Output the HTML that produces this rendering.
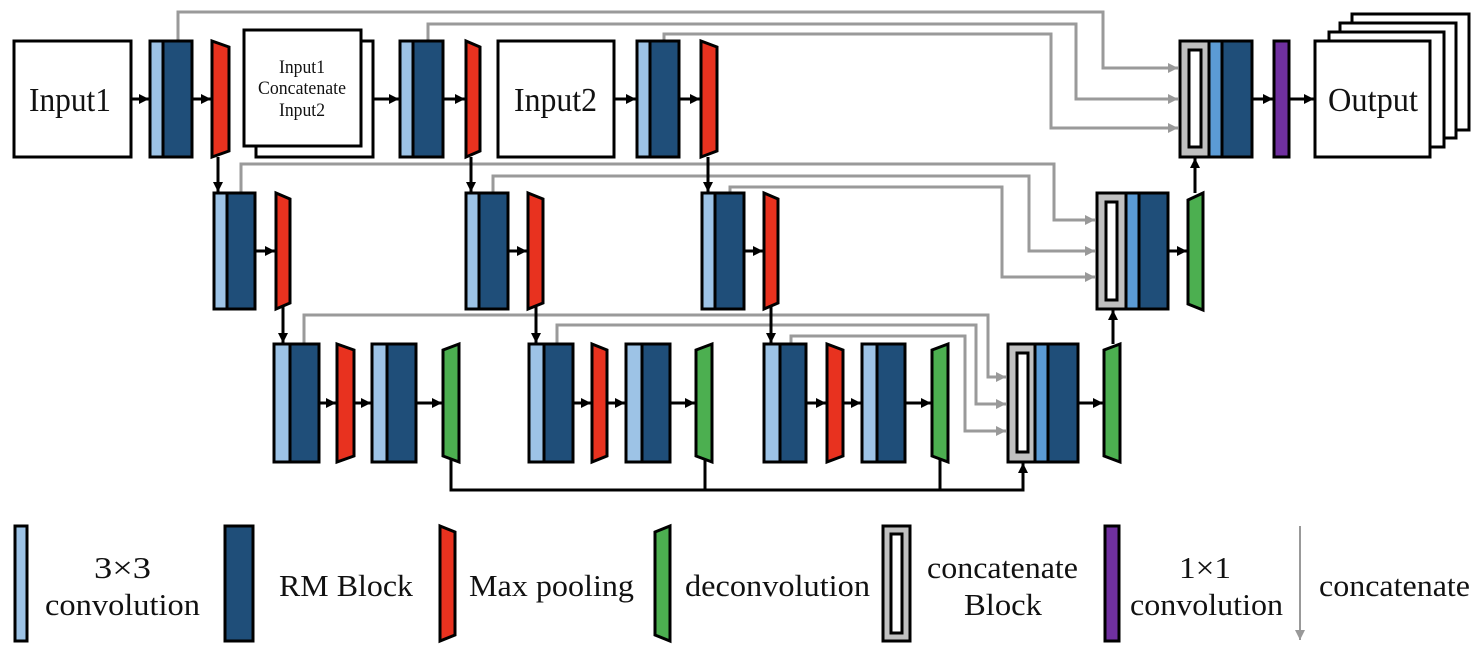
<!DOCTYPE html>
<html><head><meta charset="utf-8"><style>
html,body{margin:0;padding:0;background:#fff;}
svg{display:block;}
text{font-family:"Liberation Serif",serif;fill:#111;}
</style></head><body>
<svg width="1480" height="652" viewBox="0 0 1480 652" xmlns="http://www.w3.org/2000/svg">
<defs>
<marker id="ab" markerUnits="userSpaceOnUse" markerWidth="12" markerHeight="12" refX="10" refY="6" orient="auto"><path d="M0,1 L10,6 L0,11 z" fill="#000"/></marker>
<marker id="ag" markerUnits="userSpaceOnUse" markerWidth="12" markerHeight="12" refX="10" refY="6" orient="auto"><path d="M0,1 L10,6 L0,11 z" fill="#999"/></marker>
</defs>

<g fill="none" stroke="#9a9a9a" stroke-width="3">
<path d="M178,41 V12 H1103 V68 H1178" marker-end="url(#ag)"/>
<path d="M428,41 V24 H1076 V99 H1178" marker-end="url(#ag)"/>
<path d="M664,41 V34 H1051 V128 H1178" marker-end="url(#ag)"/>
<path d="M241,193 V164 H1054 V220 H1095" marker-end="url(#ag)"/>
<path d="M493,193 V176 H1029 V251 H1095" marker-end="url(#ag)"/>
<path d="M730,193 V187 H1002 V277 H1095" marker-end="url(#ag)"/>
<path d="M304,344 V315 H988 V377 H1006" marker-end="url(#ag)"/>
<path d="M557,344 V325 H976 V404 H1006" marker-end="url(#ag)"/>
<path d="M791,344 V336 H965 V431 H1006" marker-end="url(#ag)"/>
</g>

<g stroke="#000" stroke-width="3">
<rect x="14" y="41" width="117" height="116" fill="#fff"/>
<rect x="150" y="41" width="13" height="116" fill="#9dc3e6"/><rect x="163" y="41" width="29" height="116" fill="#1f4e79"/>
<polygon points="212,41 229,47 229,151 212,157" fill="#e8321f"/>
<rect x="256" y="41" width="117" height="116" fill="#fff"/>
<rect x="244" y="30" width="117" height="116" fill="#fff"/>
<rect x="400" y="41" width="13" height="116" fill="#9dc3e6"/><rect x="413" y="41" width="30" height="116" fill="#1f4e79"/>
<polygon points="466,41 480,47 480,151 466,157" fill="#e8321f"/>
<rect x="498" y="41" width="116" height="116" fill="#fff"/>
<rect x="637" y="41" width="13" height="116" fill="#9dc3e6"/><rect x="650" y="41" width="29" height="116" fill="#1f4e79"/>
<polygon points="701,41 717,47 717,151 701,157" fill="#e8321f"/>
<rect x="1180" y="41" width="29" height="116" fill="#c0c0c0"/>
<rect x="1189" y="50" width="12" height="97" fill="#fff"/>
<rect x="1209" y="41" width="13" height="116" fill="#5b9bd5"/>
<rect x="1222" y="41" width="30" height="116" fill="#1f4e79"/>
<rect x="1274" y="41" width="15" height="116" fill="#7030a0"/>
<rect x="1352" y="14" width="117" height="116" fill="#fff"/>
<rect x="1340" y="23" width="116" height="115" fill="#fff"/>
<rect x="1329" y="32" width="115" height="115" fill="#fff"/>
<rect x="1315" y="41" width="115" height="116" fill="#fff"/>

<rect x="214" y="193" width="13" height="116" fill="#9dc3e6"/><rect x="227" y="193" width="28" height="116" fill="#1f4e79"/>
<polygon points="276,193 290,199 290,303 276,309" fill="#e8321f"/>
<rect x="466" y="193" width="13" height="116" fill="#9dc3e6"/><rect x="479" y="193" width="29" height="116" fill="#1f4e79"/>
<polygon points="528,193 543,199 543,303 528,309" fill="#e8321f"/>
<rect x="702" y="193" width="13" height="116" fill="#9dc3e6"/><rect x="715" y="193" width="29" height="116" fill="#1f4e79"/>
<polygon points="764,193 778,199 778,303 764,309" fill="#e8321f"/>
<rect x="1097" y="193" width="29" height="116" fill="#c0c0c0"/>
<rect x="1106" y="202" width="11" height="98" fill="#fff"/>
<rect x="1126" y="193" width="13" height="116" fill="#5b9bd5"/>
<rect x="1139" y="193" width="29" height="116" fill="#1f4e79"/>
<polygon points="1188,200 1203,193 1203,310 1188,304" fill="#4caf50"/>

<rect x="274" y="344" width="16" height="118" fill="#9dc3e6"/><rect x="290" y="344" width="29" height="118" fill="#1f4e79"/>
<polygon points="337,344 354,350 354,456 337,462" fill="#e8321f"/>
<rect x="372" y="344" width="15" height="118" fill="#9dc3e6"/><rect x="387" y="344" width="29" height="118" fill="#1f4e79"/>
<polygon points="443,350 459,344 459,462 443,456" fill="#4caf50"/>
<rect x="529" y="344" width="15" height="118" fill="#9dc3e6"/><rect x="544" y="344" width="29" height="118" fill="#1f4e79"/>
<polygon points="592,344 607,350 607,456 592,462" fill="#e8321f"/>
<rect x="626" y="344" width="16" height="118" fill="#9dc3e6"/><rect x="642" y="344" width="28" height="118" fill="#1f4e79"/>
<polygon points="696,350 712,344 712,462 696,456" fill="#4caf50"/>
<rect x="764" y="344" width="16" height="118" fill="#9dc3e6"/><rect x="780" y="344" width="26" height="118" fill="#1f4e79"/>
<polygon points="827,344 843,350 843,456 827,462" fill="#e8321f"/>
<rect x="862" y="344" width="15" height="118" fill="#9dc3e6"/><rect x="877" y="344" width="28" height="118" fill="#1f4e79"/>
<polygon points="932,350 948,344 948,462 932,456" fill="#4caf50"/>
<rect x="1008" y="344" width="27" height="118" fill="#c0c0c0"/>
<rect x="1017" y="353" width="11" height="99" fill="#fff"/>
<rect x="1035" y="344" width="13" height="118" fill="#5b9bd5"/>
<rect x="1048" y="344" width="30" height="118" fill="#1f4e79"/>
<polygon points="1104,350 1120,344 1120,462 1104,456" fill="#4caf50"/>
</g>

<g stroke="#000" stroke-width="3" fill="none">
<line x1="131" y1="99" x2="149" y2="99" marker-end="url(#ab)"/>
<line x1="192" y1="99" x2="211" y2="99" marker-end="url(#ab)"/>
<line x1="373" y1="99" x2="399" y2="99" marker-end="url(#ab)"/>
<line x1="443" y1="99" x2="465" y2="99" marker-end="url(#ab)"/>
<line x1="614" y1="99" x2="636" y2="99" marker-end="url(#ab)"/>
<line x1="679" y1="99" x2="700" y2="99" marker-end="url(#ab)"/>
<line x1="1252" y1="99" x2="1273" y2="99" marker-end="url(#ab)"/>
<line x1="1289" y1="99" x2="1314" y2="99" marker-end="url(#ab)"/>
<line x1="218" y1="157" x2="218" y2="192" marker-end="url(#ab)"/>
<line x1="471" y1="157" x2="471" y2="192" marker-end="url(#ab)"/>
<line x1="708" y1="157" x2="708" y2="192" marker-end="url(#ab)"/>
<line x1="255" y1="251" x2="275" y2="251" marker-end="url(#ab)"/>
<line x1="508" y1="251" x2="527" y2="251" marker-end="url(#ab)"/>
<line x1="744" y1="251" x2="763" y2="251" marker-end="url(#ab)"/>
<line x1="1168" y1="251" x2="1187" y2="251" marker-end="url(#ab)"/>
<line x1="1195" y1="193" x2="1195" y2="158" marker-end="url(#ab)"/>
<line x1="283" y1="306" x2="283" y2="343" marker-end="url(#ab)"/>
<line x1="536" y1="306" x2="536" y2="343" marker-end="url(#ab)"/>
<line x1="771" y1="306" x2="771" y2="343" marker-end="url(#ab)"/>
<line x1="319" y1="403" x2="336" y2="403" marker-end="url(#ab)"/>
<line x1="354" y1="403" x2="371" y2="403" marker-end="url(#ab)"/>
<line x1="416" y1="403" x2="442" y2="403" marker-end="url(#ab)"/>
<line x1="573" y1="403" x2="591" y2="403" marker-end="url(#ab)"/>
<line x1="607" y1="403" x2="625" y2="403" marker-end="url(#ab)"/>
<line x1="670" y1="403" x2="695" y2="403" marker-end="url(#ab)"/>
<line x1="806" y1="403" x2="826" y2="403" marker-end="url(#ab)"/>
<line x1="843" y1="403" x2="861" y2="403" marker-end="url(#ab)"/>
<line x1="905" y1="403" x2="931" y2="403" marker-end="url(#ab)"/>
<line x1="1078" y1="403" x2="1103" y2="403" marker-end="url(#ab)"/>
<line x1="1113" y1="344" x2="1113" y2="310" marker-end="url(#ab)"/>
<path d="M451,459 V490 H1023 V463" marker-end="url(#ab)"/>
<line x1="705" y1="459" x2="705" y2="490"/>
<line x1="940" y1="459" x2="940" y2="490"/>
</g>

<text x="29" y="111" font-size="34" textLength="82" lengthAdjust="spacingAndGlyphs">Input1</text>
<text x="514" y="111" font-size="34" textLength="83" lengthAdjust="spacingAndGlyphs">Input2</text>
<text x="1328" y="111" font-size="34" textLength="90" lengthAdjust="spacingAndGlyphs">Output</text>
<text x="302" y="73" font-size="19" text-anchor="middle" textLength="46" lengthAdjust="spacingAndGlyphs">Input1</text>
<text x="302" y="94" font-size="19" text-anchor="middle" textLength="88" lengthAdjust="spacingAndGlyphs">Concatenate</text>
<text x="302" y="116" font-size="19" text-anchor="middle" textLength="46" lengthAdjust="spacingAndGlyphs">Input2</text>

<g stroke="#000" stroke-width="3">
<rect x="15" y="526" width="12" height="115" fill="#9dc3e6"/>
<rect x="225" y="526" width="28" height="115" fill="#1f4e79"/>
<polygon points="440,526 455,532 455,635 440,641" fill="#e8321f"/>
<polygon points="655,532 670,526 670,641 655,635" fill="#4caf50"/>
<rect x="883" y="526" width="27" height="115" fill="#c0c0c0"/>
<rect x="891" y="534" width="11" height="99" fill="#fff"/>
<rect x="1105" y="526" width="14" height="115" fill="#7030a0"/>
</g>
<line x1="1300" y1="526" x2="1300" y2="640" stroke="#999" stroke-width="2" marker-end="url(#ag)"/>
<g font-size="31" lengthAdjust="spacingAndGlyphs">
<text x="94" y="578" textLength="57" lengthAdjust="spacingAndGlyphs">3×3</text>
<text x="45" y="615" textLength="155" lengthAdjust="spacingAndGlyphs">convolution</text>
<text x="279" y="596" textLength="134" lengthAdjust="spacingAndGlyphs">RM Block</text>
<text x="469" y="596" textLength="165" lengthAdjust="spacingAndGlyphs">Max pooling</text>
<text x="685" y="596" textLength="185" lengthAdjust="spacingAndGlyphs">deconvolution</text>
<text x="927" y="578" textLength="151" lengthAdjust="spacingAndGlyphs">concatenate</text>
<text x="964" y="615" textLength="78" lengthAdjust="spacingAndGlyphs">Block</text>
<text x="1179" y="578" textLength="52" lengthAdjust="spacingAndGlyphs">1×1</text>
<text x="1130" y="615" textLength="153" lengthAdjust="spacingAndGlyphs">convolution</text>
<text x="1319" y="596" textLength="151" lengthAdjust="spacingAndGlyphs">concatenate</text>
</g>
</svg>
</body></html>
